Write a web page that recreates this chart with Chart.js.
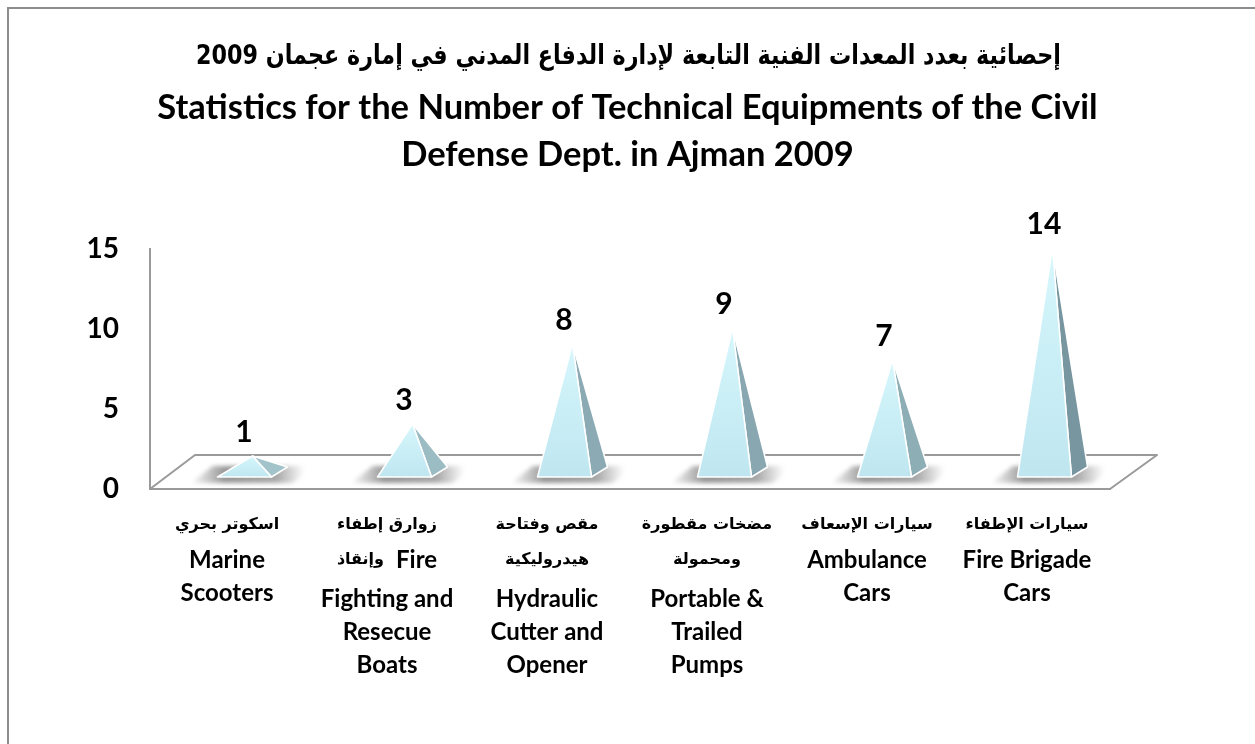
<!DOCTYPE html>
<html><head><meta charset="utf-8">
<script src="https://cdn.jsdelivr.net/npm/chart.js@4.4.1/dist/chart.umd.min.js"></script>
<style>
html,body{margin:0;padding:0;background:#fff;overflow:hidden}
#wrap{position:relative;width:1255px;height:744px}
#frame{position:absolute;left:7px;top:7px;width:1300px;height:800px;border:2px solid #8d8d8d;box-sizing:border-box;pointer-events:none}
canvas{position:absolute;left:0;top:0}
</style></head><body>
<div id="wrap"><canvas id="c" width="1255" height="744"></canvas><div id="frame"></div></div>
<script>
// ---- data ----
const categories = ["Marine Scooters","Fire Fighting and Resecue Boats","Hydraulic Cutter and Opener","Portable & Trailed Pumps","Ambulance Cars","Fire Brigade Cars"];
const values = [1, 3, 8, 9, 7, 14];
const yTicks = [0, 5, 10, 15];
const titleAr = "إحصائية بعدد المعدات الفنية التابعة لإدارة الدفاع المدني في إمارة عجمان 2009";
const titleEn = ["Statistics for the Number of Technical Equipments of the Civil", "Defense Dept. in Ajman 2009"];
const labelRows = [
  [["ar","اسكوتر بحري"],["en","Marine"],["en","Scooters"]],
  [["ar","زوارق إطفاء"],["mix","وإنقاذ","Fire"],["en","Fighting and"],["en","Resecue"],["en","Boats"]],
  [["ar","مقص وفتاحة"],["ar","هيدروليكية"],["en","Hydraulic"],["en","Cutter and"],["en","Opener"]],
  [["ar","مضخات مقطورة"],["ar","ومحمولة"],["en","Portable &"],["en","Trailed"],["en","Pumps"]],
  [["ar","سيارات الإسعاف"],["en","Ambulance"],["en","Cars"]],
  [["ar","سيارات الإطفاء"],["en","Fire Brigade"],["en","Cars"]]
];

// ---- styles ----
const EN = 'Lato';
const AR = '"DejaVu Sans"';
const DEPTH_X = 45, DEPTH_Y = 34;
const LINE = '#9a9a9a';

function mix(a, b, t) {
  const pa = [1,3,5].map(k => parseInt(a.substr(k,2),16));
  const pb = [1,3,5].map(k => parseInt(b.substr(k,2),16));
  return 'rgb(' + pa.map((v,i)=>Math.round(v+(pb[i]-v)*t)).join(',') + ')';
}

function geom(chart, i) {
  const el = chart.getDatasetMeta(0).data[i];
  const ys = chart.scales.y;
  const y0 = ys.getPixelForValue(0);
  const bcx = el.x + DEPTH_X/2, bcy = y0 - DEPTH_Y/2;
  const apy = ys.getPixelForValue(values[i]) - DEPTH_Y/2;
  const hw = 27, ox = 8, oy = 5;
  return {x: el.x, bcx, bcy, apx: bcx, apy,
    fl: [bcx-ox-hw, bcy+oy], fr: [bcx-ox+hw, bcy+oy], br: [bcx+ox+hw, bcy-oy]};
}

const floorPlugin = {
  id: 'floor3d',
  beforeDatasetsDraw(chart) {
    const ctx = chart.ctx, xs = chart.scales.x, ys = chart.scales.y;
    const y0 = ys.getPixelForValue(0);
    ctx.save();
    ctx.strokeStyle = LINE; ctx.lineWidth = 2; ctx.lineJoin = 'round';
    ctx.beginPath();
    ctx.moveTo(xs.left, y0);
    ctx.lineTo(xs.left + DEPTH_X, y0 - DEPTH_Y);
    ctx.lineTo(xs.right + DEPTH_X + 2, y0 - DEPTH_Y);
    ctx.lineTo(xs.right, y0);
    ctx.stroke();
    // soft shadows on the floor
    values.forEach((v, i) => {
      const g = geom(chart, i);
      const top = g.bcy - 6, bot = g.bcy + 11;
      const sl = (bot - top) * DEPTH_X / DEPTH_Y;
      const gr = ctx.createLinearGradient(g.bcx - 62, 0, g.bcx + 52, 0);
      gr.addColorStop(0, 'rgba(80,80,80,0)');
      gr.addColorStop(0.3, 'rgba(80,80,80,0.6)');
      gr.addColorStop(0.75, 'rgba(80,80,80,0.5)');
      gr.addColorStop(1, 'rgba(80,80,80,0)');
      ctx.filter = 'blur(2px)';
      ctx.fillStyle = gr;
      ctx.beginPath();
      ctx.moveTo(g.bcx - 62, bot);
      ctx.lineTo(g.bcx + 40, bot);
      ctx.lineTo(g.bcx + 40 + sl, top);
      ctx.lineTo(g.bcx - 62 + sl, top);
      ctx.closePath();
      ctx.fill();
      ctx.filter = 'none';
    });
    ctx.restore();
  },
  afterDatasetsDraw(chart) {
    const ctx = chart.ctx;
    ctx.save();
    values.forEach((v, i) => {
      const g = geom(chart, i);
      const t = Math.min(1, (g.bcy - g.apy) / 220);
      // right face
      ctx.fillStyle = mix('#a5c6cd', '#7896a0', t);
      ctx.beginPath();
      ctx.moveTo(g.apx, g.apy); ctx.lineTo(g.fr[0], g.fr[1]); ctx.lineTo(g.br[0], g.br[1]); ctx.closePath();
      ctx.fill();
      ctx.strokeStyle = '#ffffff'; ctx.lineWidth = 1.5; ctx.lineJoin = 'round';
      ctx.stroke();
      // front face
      const gr = ctx.createLinearGradient(0, g.apy, 0, g.fl[1]);
      gr.addColorStop(0, '#d6f7fc');
      gr.addColorStop(1, '#bfe6f0');
      ctx.fillStyle = gr;
      ctx.beginPath();
      ctx.moveTo(g.apx, g.apy); ctx.lineTo(g.fl[0], g.fl[1]); ctx.lineTo(g.fr[0], g.fr[1]); ctx.closePath();
      ctx.fill();
      ctx.stroke();
      // value label
      ctx.fillStyle = '#000';
      ctx.font = 'bold 30px ' + EN;
      ctx.textAlign = 'center'; ctx.textBaseline = 'middle';
      ctx.fillText(String(v), g.x + 14, g.apy - 24);
    });
    ctx.restore();
  },
  afterDraw(chart) {
    const ctx = chart.ctx, xs = chart.scales.x, ys = chart.scales.y;
    ctx.save();
    ctx.fillStyle = '#000'; ctx.textAlign = 'center'; ctx.textBaseline = 'middle';
    // Arabic title line (narrowed to match the original typeface width)
    ctx.font = 'bold 27px ' + AR;
    const tw = ctx.measureText(titleAr).width;
    const sx = Math.min(1, 865 / tw);
    ctx.save();
    ctx.translate(chart.width / 2 + 1, 57);
    ctx.scale(sx, 1);
    ctx.fillText(titleAr, 0, 0);
    ctx.restore();
    // category labels
    const startY = ys.getPixelForValue(0) + 36;
    const arFont = 'bold 16px ' + AR, enFont = 'bold 24px ' + EN;
    labelRows.forEach((rows, i) => {
      const x = xs.getPixelForValue(i) - 3;
      let y = startY, prev = null;
      rows.forEach((r, k) => {
        if (prev) {
          if (prev === 'en') y += 33;
          else if (r[0] === 'en') y += (k === 1 ? 35 : 39);
          else y += 35;
        }
        if (r[0] === 'ar') { ctx.font = arFont; ctx.fillText(r[1], x, y); }
        else if (r[0] === 'en') { ctx.font = enFont; ctx.fillText(r[1], x, y); }
        else {
          ctx.font = arFont; const wa = ctx.measureText(r[1]).width;
          ctx.font = enFont; const we = ctx.measureText(r[2]).width;
          const gap = 12, left = x - (wa + gap + we) / 2;
          ctx.textAlign = 'left';
          ctx.font = arFont; ctx.fillText(r[1], left, y);
          ctx.font = enFont; ctx.fillText(r[2], left + wa + gap, y);
          ctx.textAlign = 'center';
        }
        prev = r[0] === 'mix' ? 'ar' : r[0];
      });
    });
    ctx.restore();
  }
};

new Chart(document.getElementById('c'), {
  type: 'bar',
  data: {
    labels: categories,
    datasets: [{ data: values, backgroundColor: 'rgba(0,0,0,0)', borderWidth: 0 }]
  },
  options: {
    responsive: false,
    animation: false,
    devicePixelRatio: 1,
    layout: { padding: 0 },
    plugins: {
      legend: { display: false },
      tooltip: { enabled: false },
      title: { display: false },
      subtitle: {
        display: true, text: titleEn, color: '#000',
        font: { family: EN, weight: 'bold', size: 34.5, lineHeight: 1.362 },
        padding: { top: 84.5, bottom: 70.5 }
      }
    },
    scales: {
      x: {
        type: 'category',
        grid: { display: false, drawTicks: false },
        border: { display: true, color: LINE, width: 2 },
        ticks: { display: false },
        afterFit: s => { s.height = 255; }
      },
      y: {
        min: 0, max: 15,
        grid: { display: false, drawTicks: false },
        border: { display: true, color: LINE, width: 2 },
        afterBuildTicks: s => { s.ticks = yTicks.map(v => ({ value: v })); },
        ticks: { color: '#000', font: { family: EN, weight: 'bold', size: 28 }, padding: 31 },
        afterFit: s => { s.width = 150; }
      },
      yRight: {
        position: 'right',
        display: true,
        grid: { display: false, drawTicks: false },
        border: { display: false },
        ticks: { display: false },
        afterFit: s => { s.width = 145; }
      }
    }
  },
  plugins: [floorPlugin]
});
</script>
</body></html>
